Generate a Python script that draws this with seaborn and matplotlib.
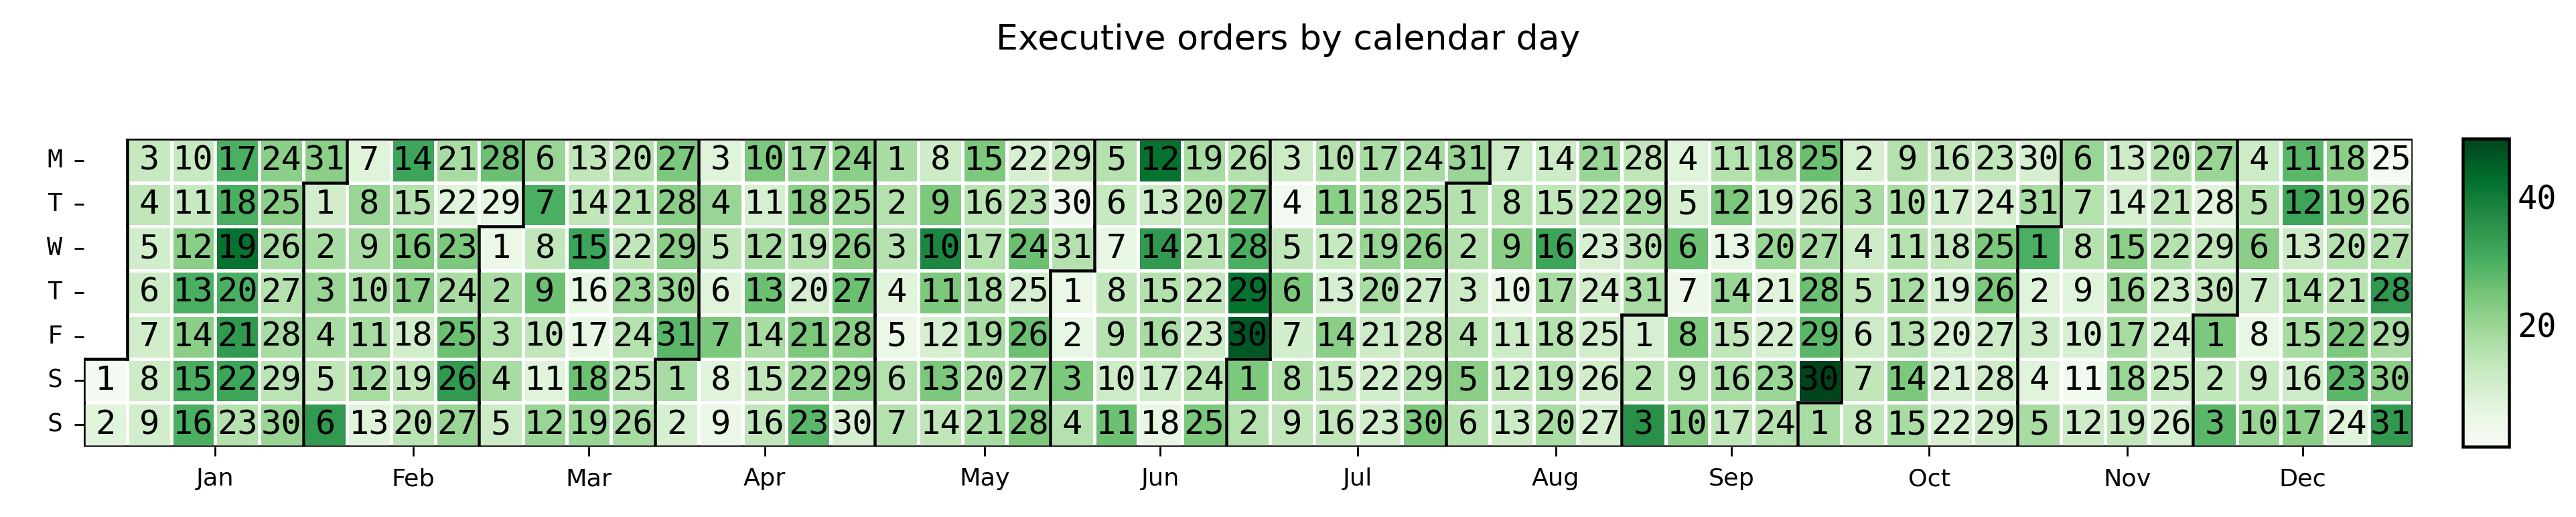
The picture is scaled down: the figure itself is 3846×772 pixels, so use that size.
import datetime
import numpy as np
import pandas as pd
import matplotlib
matplotlib.use("Agg")
import matplotlib.pyplot as plt
import seaborn as sns

YEAR = 2000
month_names = ["Jan", "Feb", "Mar", "Apr", "May", "Jun", "Jul", "Aug", "Sep", "Oct", "Nov", "Dec"]
day_labels = ["M", "T", "W", "T", "F", "S", "S"]

jan = [2, 8, 13, 14, 11, 12, 11, 12, 11, 13, 13, 22, 30, 22, 30, 30, 30, 30, 42, 30, 34, 32, 16, 22, 22, 18, 16, 18, 15, 20, 22]
feb = [11, 18, 20, 18, 14, 34, 8, 20, 18, 18, 18, 18, 8, 32, 16, 24, 22, 11, 14, 15, 18, 8, 24, 18, 26, 34, 20, 26, 6]
mar = [5, 18, 16, 18, 12, 20, 30, 14, 26, 14, 8, 20, 14, 14, 32, 6, 6, 26, 20, 16, 16, 14, 20, 16, 16, 18, 24, 22, 22, 20, 28]
apr = [18, 10, 8, 20, 14, 8, 24, 8, 5, 24, 10, 18, 26, 18, 14, 14, 20, 22, 16, 10, 24, 20, 28, 22, 20, 22, 26, 22, 22, 10]
may = [18, 16, 16, 8, 5, 16, 16, 12, 24, 38, 24, 10, 24, 14, 24, 15, 16, 18, 18, 18, 18, 10, 16, 26, 10, 26, 20, 24, 14, 4, 16]
jun = [5, 6, 24, 16, 16, 13, 6, 14, 16, 12, 26, 42, 12, 34, 16, 18, 12, 6, 18, 16, 16, 14, 12, 16, 24, 16, 24, 30, 42, 46]
jul = [24, 16, 12, 3, 14, 24, 11, 18, 14, 16, 22, 13, 10, 22, 14, 14, 18, 18, 20, 18, 12, 11, 11, 18, 18, 22, 12, 14, 16, 24, 20]
aug = [16, 16, 12, 16, 22, 16, 12, 16, 22, 6, 12, 14, 12, 12, 14, 32, 18, 16, 16, 18, 20, 16, 10, 11, 11, 11, 10, 14, 18, 16, 18]
sep = [10, 16, 36, 8, 10, 26, 4, 24, 16, 22, 16, 24, 6, 20, 14, 18, 14, 20, 11, 20, 8, 10, 20, 16, 26, 14, 18, 26, 28, 49]
oct_ = [18, 10, 18, 12, 14, 12, 14, 14, 16, 18, 16, 18, 16, 24, 18, 14, 11, 14, 10, 10, 10, 10, 14, 10, 24, 24, 12, 12, 12, 10, 18]
nov = [30, 8, 12, 8, 18, 20, 16, 16, 8, 10, 3, 12, 12, 10, 22, 20, 18, 20, 14, 16, 14, 16, 12, 11, 13, 10, 20, 8, 14, 14]
dec = [24, 14, 28, 12, 16, 22, 12, 6, 13, 20, 28, 32, 12, 18, 18, 12, 22, 22, 22, 16, 16, 24, 28, 8, 2, 16, 16, 34, 18, 22, 34]
monthly_values = [jan, feb, mar, apr, may, jun, jul, aug, sep, oct_, nov, dec]

start = datetime.date(YEAR, 1, 1)
start_monday = start - datetime.timedelta(days=start.weekday())
ncols = (datetime.date(YEAR, 12, 31) - start_monday).days // 7 + 1

grid = np.full((7, ncols), np.nan)
annot = np.full((7, ncols), "", dtype=object)
month_id = np.full((7, ncols), -1)
for m, vals in enumerate(monthly_values):
    for d, v in enumerate(vals):
        dt = datetime.date(YEAR, m + 1, d + 1)
        c = (dt - start_monday).days // 7
        r = dt.weekday()
        grid[r, c] = v
        annot[r, c] = str(d + 1)
        month_id[r, c] = m

df = pd.DataFrame(grid)

fig = plt.figure(figsize=(15.384, 3.088), dpi=250)
ax = fig.add_axes([0.0324, 0.136, 0.9042, 0.596])
cax = fig.add_axes([0.956, 0.136, 0.018, 0.596])

sns.heatmap(df, ax=ax, cbar_ax=cax, cmap="Greens", vmin=1, vmax=49,
            annot=annot, fmt="", linewidths=1.0, linecolor="white",
            annot_kws=dict(fontsize=14.5, family="DejaVu Sans Mono", color="black"))

# month boundaries
lw = 1.3
for r in range(7):
    for c in range(ncols):
        mid = month_id[r, c]
        right = month_id[r, c + 1] if c + 1 < ncols else -1
        if mid != right and (mid != -1 or right != -1):
            ax.plot([c + 1, c + 1], [r, r + 1], color="black", lw=lw, solid_capstyle="projecting")
        if c == 0 and mid != -1:
            ax.plot([0, 0], [r, r + 1], color="black", lw=lw, solid_capstyle="projecting")
        down = month_id[r + 1, c] if r + 1 < 7 else -1
        if mid != down and (mid != -1 or down != -1):
            ax.plot([c, c + 1], [r + 1, r + 1], color="black", lw=lw, solid_capstyle="projecting")
        if r == 0 and mid != -1:
            ax.plot([c, c + 1], [0, 0], color="black", lw=lw, solid_capstyle="projecting")

xt = []
for m in range(12):
    cols = np.where((month_id == m).any(axis=0))[0]
    xt.append((cols.min() + cols.max() + 1) / 2)
ax.set_xticks(xt)
ax.set_xticklabels(month_names, rotation=0, fontsize=10.5)
ax.set_yticks(np.arange(7) + 0.5)
ax.set_yticklabels(day_labels, rotation=0, fontsize=11, family="DejaVu Sans Mono")
ax.tick_params(axis="both", length=4, width=0.8, pad=5)
ax.set_xlabel("")
ax.set_ylabel("")

cbar = ax.collections[0].colorbar
cbar.set_ticks([20, 40])
cbar.ax.tick_params(labelsize=14, length=0)
for t in cbar.ax.get_yticklabels():
    t.set_family("DejaVu Sans Mono")
cbar.outline.set_visible(True)
cbar.outline.set_linewidth(1.3)
cbar.outline.set_edgecolor("black")

fig.suptitle("Executive orders by calendar day", fontsize=15, y=0.955)
fig.savefig("out.png", dpi=250)
